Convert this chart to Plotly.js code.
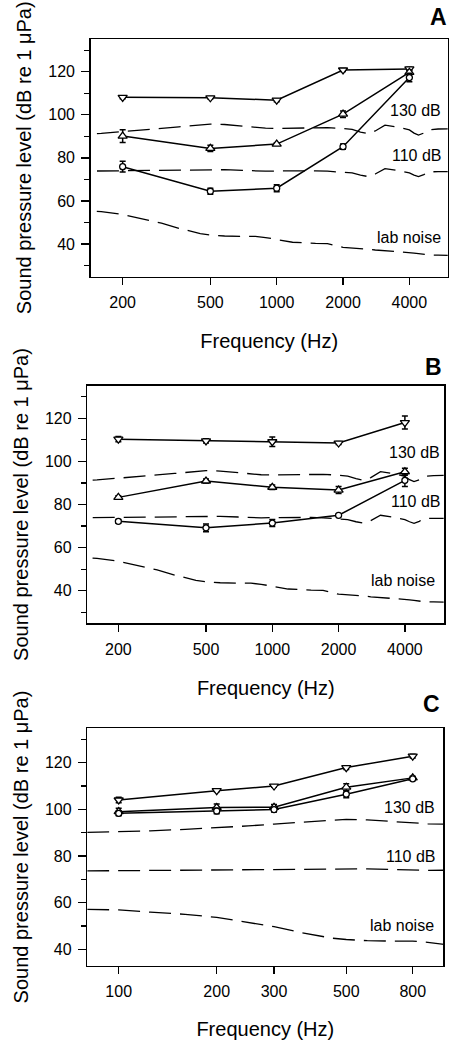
<!DOCTYPE html>
<html>
<head>
<meta charset="utf-8">
<script src="https://cdn.plot.ly/plotly-3.0.1.min.js"></script>
<style>html,body{margin:0;padding:0;background:#fff;}#chart{width:450px;height:1040px;}</style>
</head>
<body>
<div id="chart"></div>
<script>
// ---- data ----
const freqAB = [200, 500, 1000, 2000, 4000];
const freqC = [100, 200, 300, 500, 800];
const tickLabelsAB = ['200', '500', '1000', '2000', '4000'];
const tickLabelsC = ['100', '200', '300', '500', '800'];

// Panel A
const aDown = [108.1, 107.9, 106.8, 120.8, 121.3];
const aDownErr = [0.7, 0.6, 0.7, 0.7, 0.8];
const aUp = [90.1, 84.4, 86.4, 100.3, 119.7];
const aUpErr = [3.0, 1.5, 0.6, 1.5, 1.0];
const aCirc = [75.9, 64.5, 65.9, 85.2, 117.3];
const aCircErr = [2.5, 1.4, 1.6, 1.2, 2.0];

// Panel B
const bDown = [110.3, 109.5, 109.1, 108.5, 118.0];
const bDownErr = [1.2, 1.0, 2.2, 0.7, 3.0];
const bUp = [83.3, 90.9, 88.0, 86.7, 95.2];
const bUpErr = [0.8, 0.9, 1.1, 1.6, 1.6];
const bCirc = [72.2, 69.2, 71.4, 75.0, 91.2];
const bCircErr = [0.9, 1.8, 1.6, 0.5, 2.9];

// Panel C
const cDown = [104.0, 108.0, 110.0, 117.9, 122.8];
const cDownErr = [1.2, 0.5, 0.5, 0.8, 0.8];
const cUp = [99.0, 100.8, 100.9, 109.5, 113.5];
const cUpErr = [1.5, 1.5, 1.2, 1.5, 0.7];
const cCirc = [98.3, 99.3, 99.9, 106.5, 113.1];
const cCircErr = [1.0, 1.2, 1.0, 1.5, 0.7];

// Reference curves (dashed): frequency and level
const curveFreq = [80, 100, 125, 160, 200, 250, 300, 360, 450, 500, 580, 700, 800, 890, 1000, 1180, 1500, 1700, 2000, 2200, 2400, 2600, 2800, 3100, 3600, 4000, 4200, 4400, 4650, 4900, 5400, 6000];
const level130 = [90.1, 90.4, 90.8, 91.4, 92.1, 92.9, 93.7, 94.4, 95.3, 95.7, 95.5, 94.8, 94.0, 93.8, 93.7, 93.8, 94.0, 94.0, 93.6, 93.2, 92.0, 91.2, 92.5, 95.2, 94.2, 93.0, 91.5, 90.6, 91.5, 93.0, 93.4, 93.5];
const level110 = [73.6, 73.7, 73.8, 74.0, 74.1, 74.2, 74.3, 74.5, 74.6, 74.7, 74.5, 74.2, 73.8, 73.8, 73.9, 74.0, 74.0, 73.8, 73.5, 73.0, 72.0, 71.3, 72.5, 75.0, 74.0, 73.0, 72.0, 71.3, 72.2, 73.5, 73.6, 73.6];
const labNoise = [57.1, 56.9, 55.9, 55.0, 53.7, 51.5, 49.7, 47.3, 44.8, 44.2, 43.7, 43.5, 43.5, 43.0, 42.0, 40.8, 40.3, 40.2, 38.4, 38.2, 38.0, 37.6, 37.2, 36.9, 36.4, 36.0, 35.8, 35.5, 35.2, 34.9, 34.8, 34.7];

// ---- styling ----
const FONT = 'Liberation Sans, Arial, Helvetica, sans-serif';
const dashStyle = {color: '#000', width: 1.3, dash: '22px,9px'};

function curveTraces(xa, ya) {
  return [level130, level110, labNoise].map((lv, i) => ({
    x: curveFreq, y: lv, xaxis: xa, yaxis: ya, type: 'scatter', mode: 'lines',
    line: dashStyle, hoverinfo: 'skip', showlegend: false,
    name: ['130 dB', '110 dB', 'lab noise'][i]
  }));
}
function seriesTrace(x, y, err, symbol, xa, ya) {
  return {
    x: x, y: y, xaxis: xa, yaxis: ya, type: 'scatter', mode: 'lines+markers',
    line: {color: '#000', width: 1.5},
    marker: {symbol: symbol, size: symbol === 'circle' ? 6 : 8, color: '#fff', line: {color: '#000', width: 1.3}},
    error_y: {type: 'data', array: err, visible: true, color: '#000', thickness: 1.5, width: 3},
    showlegend: false
  };
}

const traces = [].concat(
  curveTraces('x', 'y'),
  [seriesTrace(freqAB, aDown, aDownErr, 'triangle-down', 'x', 'y'),
   seriesTrace(freqAB, aUp, aUpErr, 'triangle-up', 'x', 'y'),
   seriesTrace(freqAB, aCirc, aCircErr, 'circle', 'x', 'y')],
  curveTraces('x2', 'y2'),
  [seriesTrace(freqAB, bDown, bDownErr, 'triangle-down', 'x2', 'y2'),
   seriesTrace(freqAB, bUp, bUpErr, 'triangle-up', 'x2', 'y2'),
   seriesTrace(freqAB, bCirc, bCircErr, 'circle', 'x2', 'y2')],
  curveTraces('x3', 'y3'),
  [seriesTrace(freqC, cDown, cDownErr, 'triangle-down', 'x3', 'y3'),
   seriesTrace(freqC, cUp, cUpErr, 'triangle-up', 'x3', 'y3'),
   seriesTrace(freqC, cCirc, cCircErr, 'circle', 'x3', 'y3')]
);

const W = 450, H = 1040;
function xAxis(domL, domR, range, vals, texts, anchor) {
  return {
    type: 'log', domain: [domL / W, domR / W], range: range, anchor: anchor,
    tickvals: vals, ticktext: texts, ticks: 'outside', ticklen: 7, tickwidth: 1.3, tickcolor: '#000',
    ticklabelstandoff: 4,
    showline: true, linecolor: '#000', linewidth: 1.5, mirror: true, showgrid: false, zeroline: false,
    tickfont: {family: FONT, size: 16, color: '#000'},
    title: {text: 'Frequency (Hz)', font: {family: FONT, size: 20, color: '#000'}, standoff: 24}
  };
}
function yAxis(top, bottom, range, anchor) {
  return {
    domain: [1 - bottom / H, 1 - top / H], range: range, anchor: anchor,
    tick0: 0, dtick: 20, ticks: 'outside', ticklen: 8, tickwidth: 1.3, tickcolor: '#000',
    ticklabelstandoff: 3,
    minor: {dtick: 10, tick0: 0, ticks: 'outside', ticklen: 5, tickwidth: 1.3, tickcolor: '#000', showgrid: false},
    showline: true, linecolor: '#000', linewidth: 1.5, mirror: true, showgrid: false, zeroline: false,
    tickfont: {family: FONT, size: 16, color: '#000'},
    title: {text: 'Sound pressure level (dB re 1 μPa)', font: {family: FONT, size: 20, color: '#000'}, standoff: 11}
  };
}

function labels(xref, yref, xs, ys) {
  return ['130 dB', '110 dB', 'lab noise'].map((t, i) => ({
    text: t, xref: xref + ' domain', yref: yref, x: xs[i], y: ys[i],
    xanchor: 'right', yanchor: 'middle', showarrow: false,
    font: {family: FONT, size: 16, color: '#000'}
  }));
}
function letter(t, x, y) {
  return {text: '<b>' + t + '</b>', xref: 'paper', yref: 'paper', x: x / W, y: 1 - y / H,
    xanchor: 'center', yanchor: 'middle', showarrow: false,
    font: {family: FONT, size: 23, color: '#000'}};
}

const layout = {
  width: W, height: H, margin: {l: 0, r: 0, t: 0, b: 0},
  paper_bgcolor: '#fff', plot_bgcolor: '#fff', showlegend: false,
  font: {family: FONT, color: '#000'},
  xaxis: xAxis(90.7, 447.7, [2.156, 3.776], freqAB, tickLabelsAB, 'y'),
  yaxis: yAxis(39, 276.5, [24.9, 135.2], 'x'),
  xaxis2: xAxis(87.3, 444.3, [2.160, 3.781], freqAB, tickLabelsAB, 'y2'),
  yaxis2: yAxis(385.7, 623.3, [24.9, 135.1], 'x2'),
  xaxis3: xAxis(87.3, 443.3, [1.9036, 2.997], freqC, tickLabelsC, 'y3'),
  yaxis3: yAxis(728.3, 965.7, [32.97, 134.75], 'x3'),
  annotations: [].concat(
    labels('x', 'y', [0.988, 0.990, 0.988], [102.2, 81.3, 43.2]),
    labels('x2', 'y2', [0.994, 0.997, 0.980], [104.0, 81.3, 44.9]),
    labels('x3', 'y3', [0.983, 0.986, 0.980], [101.0, 80.0, 50.0]),
    [letter('A', 438, 16.7), letter('B', 433.5, 366.7), letter('C', 431.5, 704)]
  )
};

Plotly.newPlot('chart', traces, layout, {displayModeBar: false, staticPlot: true});
</script>
</body>
</html>
